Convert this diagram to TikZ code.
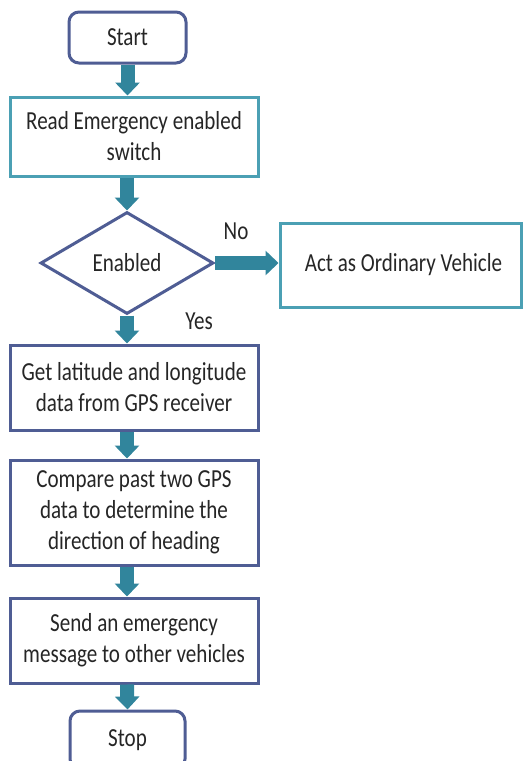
\documentclass[tikz,border=0pt]{standalone}
\usepackage{fontspec}
\setmainfont[FakeStretch=0.81]{Carlito}
\usetikzlibrary{shapes.geometric,arrows.meta}
\definecolor{tealb}{RGB}{75,160,180}
\definecolor{navyb}{RGB}{79,93,148}
\definecolor{arrowc}{RGB}{49,133,156}
\tikzset{
  txt/.style={font=\fontsize{26}{31}\selectfont, align=center, text=black!85},
  box/.style={txt, draw, line width=3pt, fill=white, inner sep=0pt},
  tealbox/.style={box, draw=tealb},
  navybox/.style={box, draw=navyb},
  term/.style={box, draw=navyb, rounded corners=10pt},
  dec/.style={txt, draw=navyb, line width=3pt, fill=white, diamond, inner sep=0pt, minimum width=173pt, minimum height=102pt, aspect=1.7},
  blockarrow/.style={draw=arrowc!80!black, line width=14pt, -{Triangle[width=24pt,length=13pt]}, color=arrowc},
  lbl/.style={font=\fontsize{26}{30}\selectfont, text=black!85}
}
\begin{document}
\begin{tikzpicture}[x=1pt,y=-1pt]
\useasboundingbox (0,0) rectangle (523,761);
\clip (0,0) rectangle (523,761);
\fill[white] (0,0) rectangle (523,761);
\node[term, minimum width=117pt, minimum height=51pt] (start) at (127.5,37.5) {Start};
\node[tealbox, minimum width=248pt, minimum height=79pt] (read) at (134,136.5) {Read Emergency enabled\\switch};
\node[dec] (en) at (127,263) {Enabled};
\node[tealbox, minimum width=241pt, minimum height=84pt] (act) at (400.5,265) {\hspace*{6pt}Act as Ordinary Vehicle};
\node[navybox, minimum width=248pt, minimum height=85pt] (gps) at (134,387.5) {Get latitude and longitude\\data from GPS receiver};
\node[navybox, minimum width=248pt, minimum height=105pt] (cmp) at (134,512.5) {Compare past two GPS\\data to determine the\\direction of heading};
\node[navybox, minimum width=248pt, minimum height=85pt] (send) at (134,640.5) {Send an emergency\\message to other vehicles};
\node[term, minimum width=115pt, minimum height=58pt] (stop) at (127.5,740) {Stop};
\node[lbl] (no) at (236,231) {No};
\node[lbl] (yes) at (199,321) {Yes};
\draw[blockarrow] (start.south) -- (start.south |- read.north);
\draw[blockarrow] (en.north |- read.south) -- (en.north);
\draw[blockarrow] (en.east) -- (act.west |- en.east);
\draw[blockarrow] (en.south) -- (en.south |- gps.north);
\draw[blockarrow] (en.south |- gps.south) -- (en.south |- cmp.north);
\draw[blockarrow] (en.south |- cmp.south) -- (en.south |- send.north);
\draw[blockarrow] (en.south |- send.south) -- (stop.north);
\end{tikzpicture}
\end{document}
